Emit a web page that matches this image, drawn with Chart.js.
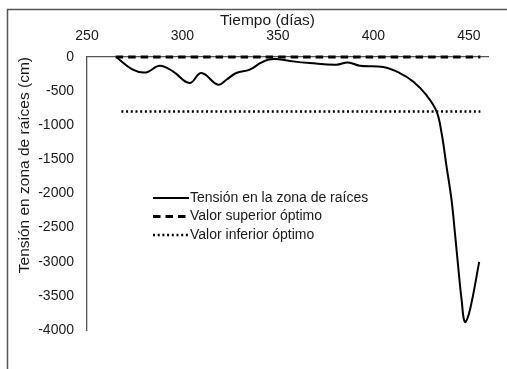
<!DOCTYPE html>
<html>
<head>
<meta charset="utf-8">
<script src="https://cdn.jsdelivr.net/npm/chart.js@4"></script>
<style>
  html, body { margin: 0; padding: 0; background: #fff; }
</style>
</head>
<body>
<canvas id="tensionChart" width="507" height="369"></canvas>
<script>
// Datos
const dias = [265.3, 274, 281, 288, 295, 303.7, 309.9, 318.6, 323, 328.2, 335.2, 340.4, 344.8, 349.2, 357.9, 366.6, 380.6, 386.7, 392.8, 405.1, 413.8, 420.8, 427.8, 433.1, 435.7, 438.3, 440.9, 442.7, 444.4, 446.2, 447.9, 450.5, 455.4];
const tensionRaices = [0, -186, -226, -128, -211, -382, -235, -407, -333, -235, -186, -95, -40, -29, -64, -88, -113, -79, -128, -147, -235, -358, -560, -799, -1116, -1606, -2095, -2584, -3075, -3564, -3882, -3710, -3001];
const diasOptimo = [265, 456];
const valorSuperior = [0, 0];
const diasInferior = [268, 456];
const valorInferior = [-800, -800];
const etiquetas = ['Tensión en la zona de raíces', 'Valor superior óptimo', 'Valor inferior óptimo'];
const ticksX = [250, 300, 350, 400, 450];
const ticksY = [0, -500, -1000, -1500, -2000, -2500, -3000, -3500, -4000];
const ejeX = { min: 250, max: 460, titulo: 'Tiempo (días)' };
const ejeY = { min: -4000, max: 0, titulo: 'Tensión en zona de raíces (cm)' };

const fuente = 'Liberation Sans, Arial, sans-serif';
const toXY = (xs, ys) => xs.map((x, i) => ({ x, y: ys[i] }));

// marco gris, títulos de ejes y leyenda dibujados a mano
const extras = {
  id: 'extras',
  beforeDraw(chart) {
    const ctx = chart.ctx;
    ctx.save();
    ctx.strokeStyle = '#555';
    ctx.lineWidth = 1.5;
    ctx.beginPath();
    ctx.moveTo(7.5, 369);
    ctx.lineTo(7.5, 9.5);
    ctx.lineTo(507, 9.5);
    ctx.stroke();
    ctx.restore();
  },
  afterDraw(chart) {
    const ctx = chart.ctx;
    const area = chart.chartArea;
    ctx.save();
    ctx.fillStyle = '#1a1a1a';
    ctx.font = '15.5px ' + fuente;
    ctx.textBaseline = 'middle';
    ctx.textAlign = 'center';
    ctx.fillText(ejeX.titulo, 267.5, 20.5);

    ctx.translate(25, area.top);
    ctx.rotate(-Math.PI / 2);
    ctx.textAlign = 'right';
    ctx.fillText(ejeY.titulo, 0, 0);
    ctx.restore();

    // leyenda
    ctx.save();
    ctx.font = '14px ' + fuente;
    ctx.textBaseline = 'middle';
    ctx.textAlign = 'left';
    chart.data.datasets.forEach((ds, i) => {
      const y = 198 + i * 18.5;
      ctx.strokeStyle = ds.borderColor;
      ctx.lineWidth = ds.borderWidth;
      ctx.setLineDash(ds.borderDash || []);
      ctx.beginPath();
      ctx.moveTo(153, y);
      ctx.lineTo(189, y);
      ctx.stroke();
      ctx.setLineDash([]);
      ctx.fillStyle = '#1a1a1a';
      ctx.fillText(ds.label, 190, y);
    });
    ctx.restore();
  }
};

new Chart(document.getElementById('tensionChart'), {
  type: 'scatter',
  data: {
    datasets: [{
      label: etiquetas[0],
      data: toXY(dias, tensionRaices),
      showLine: true,
      borderColor: '#000',
      borderWidth: 2,
      pointRadius: 0,
      tension: 0.4,
      clip: false
    }, {
      label: etiquetas[1],
      data: toXY(diasOptimo, valorSuperior),
      showLine: true,
      borderColor: '#000',
      borderWidth: 3,
      borderDash: [7.5, 5],
      pointRadius: 0,
      clip: false
    }, {
      label: etiquetas[2],
      data: toXY(diasInferior, valorInferior),
      showLine: true,
      borderColor: '#000',
      borderWidth: 2.5,
      borderDash: [2, 2.7],
      pointRadius: 0,
      clip: false
    }]
  },
  options: {
    responsive: false,
    animation: false,
    devicePixelRatio: 1,
    layout: { padding: { top: 0, left: 0, right: 19, bottom: 39 } },
    plugins: { legend: { display: false }, tooltip: { enabled: false } },
    scales: {
      x: {
        type: 'linear',
        position: 'top',
        min: ejeX.min,
        max: ejeX.max,
        afterBuildTicks: s => { s.ticks = ticksX.map(v => ({ value: v })); },
        afterFit: s => { s.height = 57; },
        ticks: { padding: 12, color: '#1a1a1a', font: { family: fuente, size: 14 }, callback: v => String(v) },
        grid: { display: false, drawTicks: false },
        border: { color: '#555', width: 1.3 }
      },
      y: {
        min: ejeY.min,
        max: ejeY.max,
        afterBuildTicks: s => { s.ticks = ticksY.map(v => ({ value: v })); },
        afterFit: s => { s.width = 87; },
        ticks: { padding: 13, color: '#1a1a1a', font: { family: fuente, size: 14 }, callback: v => String(v) },
        grid: { display: false, drawTicks: false },
        border: { color: '#555', width: 1.3 }
      }
    }
  },
  plugins: [extras]
});
</script>
</body>
</html>
